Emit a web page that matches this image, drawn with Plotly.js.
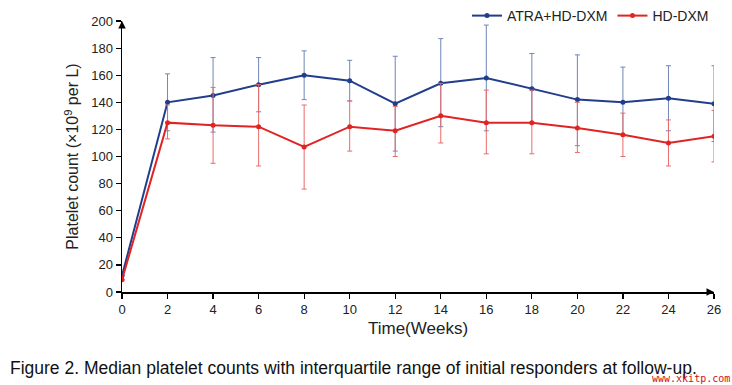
<!DOCTYPE html>
<html>
<head>
<meta charset="utf-8">
<script src="https://cdn.plot.ly/plotly-3.0.1.min.js"></script>
<style>html,body{margin:0;padding:0;background:#fff;}#chart{width:732px;height:385px;}</style>
</head>
<body>
<div id="chart"></div>
<script>
// Data
const weeks = [0, 2, 4, 6, 8, 10, 12, 14, 16, 18, 20, 22, 24, 26];
const atraMedian = [12, 140, 145, 153, 160, 156, 139, 154, 158, 150, 142, 140, 143, 139];
const atraQ3     = [12, 161, 173, 173, 178, 171, 174, 187, 197, 176, 175, 166, 167, 167];
const atraQ1     = [12, 119, 118, 133, 142, 141, 104, 122, 119, 125, 108, 116, 119, 111];
const hdMedian   = [9, 125, 123, 122, 107, 122, 119, 130, 125, 125, 121, 116, 110, 115];
const hdQ3       = [9, 138, 151, 153, 138, 141, 137, 154, 149, 149, 140, 132, 127, 134];
const hdQ1       = [9, 113, 95, 93, 76, 104, 100, 110, 102, 102, 103, 100, 93, 96];
const xTicks = [0, 2, 4, 6, 8, 10, 12, 14, 16, 18, 20, 22, 24, 26];
const yTicks = [0, 20, 40, 60, 80, 100, 120, 140, 160, 180, 200];

const diff = (a, b) => a.map((v, i) => v - b[i]);
const FONT = 'Liberation Sans, Arial, sans-serif';
const BLUE = '#213d8c';
const RED = '#e02424';

const traces = [
  {
    x: weeks, y: atraMedian, name: 'ATRA+HD-DXM', type: 'scatter', mode: 'lines+markers',
    line: {color: BLUE, width: 2}, marker: {color: BLUE, size: 5},
    error_y: {type: 'data', symmetric: false, array: diff(atraQ3, atraMedian), arrayminus: diff(atraMedian, atraQ1),
      color: '#6f86b8', thickness: 1, width: 2.5}
  },
  {
    x: weeks, y: hdMedian, name: 'HD-DXM', type: 'scatter', mode: 'lines+markers',
    line: {color: RED, width: 2}, marker: {color: RED, size: 5},
    error_y: {type: 'data', symmetric: false, array: diff(hdQ3, hdMedian), arrayminus: diff(hdMedian, hdQ1),
      color: '#e86b6b', thickness: 1, width: 2.5}
  }
];

const layout = {
  width: 732, height: 385,
  margin: {l: 122, r: 18, t: 0, b: 93},
  paper_bgcolor: '#fff', plot_bgcolor: '#fff',
  font: {family: FONT, size: 13, color: '#222'},
  showlegend: true,
  legend: {orientation: 'h', x: 1.0, xanchor: 'right', y: 1.0, yanchor: 'top',
    font: {family: FONT, size: 14, color: '#222'}, bgcolor: 'rgba(0,0,0,0)', itemwidth: 30, tracegroupgap: 0},
  xaxis: {
    range: [0, 26], tickvals: xTicks, ticktext: xTicks.map(String),
    showgrid: false, zeroline: false, showline: true, linecolor: '#000', linewidth: 1.5,
    ticks: 'outside', ticklen: 5, tickcolor: '#000', tickwidth: 1.2,
    tickfont: {family: FONT, size: 13, color: '#222'},
    title: {text: 'Time(Weeks)', font: {family: FONT, size: 17, color: '#222'}, standoff: 6},
    automargin: false
  },
  yaxis: {
    domain: [0, 0.928],
    range: [0, 200], tickvals: yTicks, ticktext: yTicks.map(String),
    showgrid: false, zeroline: false, showline: true, linecolor: '#000', linewidth: 1.5,
    ticks: 'outside', ticklen: 5, tickcolor: '#000', tickwidth: 1.2,
    tickfont: {family: FONT, size: 13, color: '#222'},
    title: {text: 'Platelet count (×10<sup>9</sup> per L)', font: {family: FONT, size: 16, color: '#222'}, standoff: 8},
    automargin: false
  },
  annotations: [
    {xref: 'x', yref: 'y', x: 26, y: 0, ax: -8, ay: 0, showarrow: true, arrowhead: 2, arrowsize: 1, arrowwidth: 1.5, arrowcolor: '#000', text: ''},
    {xref: 'x', yref: 'y', x: 0, y: 200, ax: 0, ay: 8, showarrow: true, arrowhead: 2, arrowsize: 1, arrowwidth: 1.5, arrowcolor: '#000', text: ''},
    {xref: 'paper', yref: 'paper', x: -0.1926, xanchor: 'left', y: -0.260, yanchor: 'middle', showarrow: false,
      text: 'Figure 2. Median platelet counts with interquartile range of initial responders at follow-up.',
      font: {family: FONT, size: 17.5, color: '#111'}},
    {xref: 'paper', yref: 'paper', x: 1.03, xanchor: 'right', y: -0.297, yanchor: 'middle', showarrow: false,
      text: 'www.xkitp.com', font: {family: 'DejaVu Sans Mono, monospace', size: 10, color: '#d01010'}}
  ]
};

Plotly.newPlot('chart', traces, layout, {displayModeBar: false, staticPlot: true});
</script>
</body>
</html>
